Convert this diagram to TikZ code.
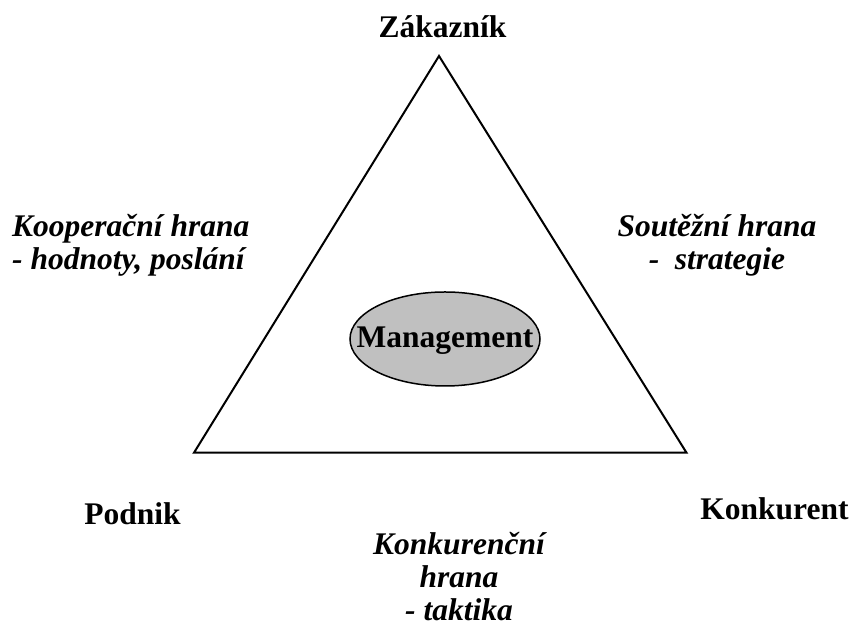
\documentclass[tikz,border=0pt]{standalone}
\usepackage{fontspec}
\setmainfont{Liberation Serif}
\usetikzlibrary{shapes.geometric}
\begin{document}
\begin{tikzpicture}[x=1pt,y=1pt,
  lbl/.style={font=\fontsize{31.5}{33}\selectfont\bfseries, inner sep=0pt},
  ilbl/.style={font=\fontsize{31.5}{33}\selectfont\bfseries\itshape, inner sep=0pt},
  edge/.style={draw=black, line width=2pt, line join=miter}]
\useasboundingbox (0,0) rectangle (855,628);
\coordinate (apex) at (439,572);
\coordinate (bl) at (194,175.3);
\coordinate (br) at (686.5,175.3);
\draw[edge] (apex) -- (br) -- (bl) -- cycle;
\node[ellipse, draw=black, line width=1.5pt, fill={rgb,255:red,192;green,192;blue,192},
      minimum width=190pt, minimum height=94pt, inner sep=0pt] (mgmt) at (445,289) {};
\node[lbl, anchor=base] (mtext) at (445,280) {Management};
\node[lbl, anchor=base] (zak) at (442.5,590) {Zákazník};
\node[lbl, anchor=base] (pod) at (132.5,103) {Podnik};
\node[lbl, anchor=base] (kon) at (774.5,108) {Konkurent};
\node[ilbl, anchor=base west, align=left] (koop) at (12,358) {Kooperační hrana\\- hodnoty, poslání};
\node[ilbl, anchor=base, align=center] (sout) at (717,358) {Soutěžní hrana\\-\ \ strategie};
\node[ilbl, anchor=base, align=center] (konh) at (459,7) {Konkurenční\\hrana\\- taktika};
\end{tikzpicture}
\end{document}
